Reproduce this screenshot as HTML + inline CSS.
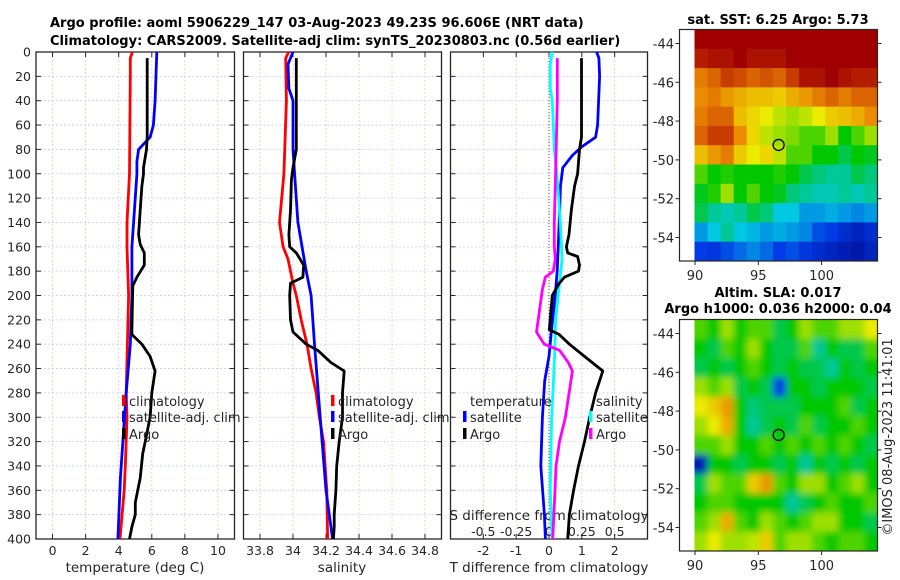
<!DOCTYPE html>
<html><head><meta charset="utf-8"><style>
html,body{margin:0;padding:0;background:#fff}
svg{display:block;font-family:"DejaVu Sans","Liberation Sans",sans-serif}
</style></head><body>
<svg id="fig" width="900" height="580" viewBox="0 0 900 580"></svg>
<script>
// ---------- data ----------
const tClimDepth=[0,5,20,100,140,160,200,280,300,340,360,400];
const tClimVal=[4.83,4.7,4.7,4.65,4.5,4.5,4.6,4.45,4.5,4.4,4.33,4.08];
const tSatDepth=[0,40,60,70,80,90,100,140,160,200,240,280,300,350,400];
const tSatVal=[6.3,6.2,6.1,5.9,5.2,5.1,5.1,4.9,4.8,4.8,4.7,4.45,4.35,4.1,3.95];
const tArgoDepth=[5,70,80,95,100,110,130,150,158,165,175,185,192,228,232,240,250,262,280,300,320,330,350,370,380,390,400];
const tArgoVal=[5.72,5.72,5.68,5.5,5.5,5.4,5.3,5.2,5.3,5.55,5.55,5.1,4.85,4.8,4.8,5.4,5.9,6.2,6.0,5.9,5.6,5.45,5.3,5.0,5.0,4.8,4.65];

const sClimDepth=[0,5,40,100,140,160,170,190,200,220,240,260,280,300,320,360,400];
const sClimVal=[33.974,33.956,33.96,33.945,33.918,33.94,33.97,34.0,34.02,34.05,34.085,34.11,34.14,34.16,34.185,34.205,34.21];
const sSatDepth=[0,5,10,30,40,80,100,140,180,200,240,300,360,400];
const sSatVal=[34.0,33.985,33.97,33.975,34.0,34.0,34.01,34.03,34.08,34.11,34.13,34.165,34.2,34.24];
const sArgoDepth=[5,80,95,105,130,150,160,165,175,185,190,200,220,230,240,245,255,262,280,300,320,340,360,380,390,400];
const sArgoVal=[34.02,34.02,34.0,33.99,33.985,33.975,33.98,34.02,34.065,34.06,33.985,33.98,33.985,34.0,34.08,34.15,34.23,34.31,34.3,34.3,34.28,34.265,34.26,34.25,34.25,34.245];

const dTArgoDepth=[5,70,80,100,110,130,150,160,165,168,175,180,185,190,200,228,232,240,250,262,280,300,320,340,360,380,400];
const dTArgoVal=[0.99,0.99,0.93,0.87,0.78,0.68,0.61,0.53,0.57,0.87,0.93,0.9,0.47,0.31,0.1,0.01,0.31,0.62,1.08,1.64,1.42,1.24,1.08,0.9,0.75,0.62,0.57];
const dTSatDepth=[0,5,20,60,70,78,85,95,110,140,160,180,200,230,250,270,300,340,380,400];
const dTSatVal=[1.45,1.52,1.54,1.48,1.42,0.99,0.71,0.42,0.35,0.31,0.28,0.25,0.19,0.07,0,-0.13,-0.2,-0.25,-0.14,-0.11];
const dSSatDepth=[0,10,30,40,80,100,140,170,200,220,250,280,300,360,400];
const dSSatVal=[0.025,0.01,0.01,0.025,0.04,0.06,0.086,0.1,0.07,0.05,0.043,0.03,0.02,0.01,0.023];
const dSArgoDepth=[5,40,100,140,160,170,180,185,195,230,240,245,255,262,280,300,320,340,360,400];
const dSArgoVal=[0.063,0.063,0.05,0.04,0.04,0.048,0.033,-0.028,-0.05,-0.095,-0.036,0.08,0.147,0.178,0.153,0.125,0.08,0.053,0.046,0.028];

const depthTicks=[0,20,40,60,80,100,120,140,160,180,200,220,240,260,280,300,320,340,360,380,400];
const tTicks=[0,2,4,6,8,10];
const sTicks=[33.8,34,34.2,34.4,34.6,34.8];
const sTickLabels=["33.8","34","34.2","34.4","34.6","34.8"];
const dTTicks=[-2,-1,0,1,2];
const dSTicks=[-0.5,-0.25,0,0.25,0.5];
const dSTickLabels=["-0.5","-0.25","0","0.25","0.5"];
const latTicks=[-44,-46,-48,-50,-52,-54];
const lonTicks=[90,95,100];

const sstGrid=[
[1,1,1,1,1,1,1,1,1,1,1,1,1,1],
[.95,.97,.97,1,.97,.97,.97,1,1,1,1,1,1,1],
[.82,.85,.9,.88,.85,.87,.85,.9,.97,.97,1,.97,.95,.95],
[.8,.82,.78,.75,.72,.72,.7,.75,.78,.82,.85,.82,.85,.85],
[.82,.85,.85,.72,.68,.65,.62,.6,.62,.65,.7,.72,.75,.8],
[.85,.9,.9,.8,.68,.62,.6,.58,.55,.55,.6,.5,.55,.6],
[.72,.78,.82,.7,.65,.68,.62,.55,.55,.5,.5,.45,.5,.48],
[.55,.5,.52,.5,.5,.5,.52,.5,.45,.42,.4,.4,.45,.42],
[.48,.52,.6,.5,.55,.5,.48,.42,.4,.38,.38,.4,.38,.4],
[.45,.4,.38,.4,.45,.42,.35,.35,.3,.3,.32,.3,.28,.3],
[.3,.35,.4,.35,.33,.3,.32,.3,.28,.22,.2,.15,.12,.15],
[.2,.18,.22,.25,.28,.25,.2,.22,.18,.15,.12,.1,.08,.12]];
const slaGrid=[
[.55,.5,.6,.5,.55,.55,.45,.5,.6,.55,.55,.6,.6,.65],
[.5,.45,.55,.5,.6,.5,.45,.45,.55,.4,.5,.45,.45,.55],
[.45,.5,.45,.5,.55,.5,.45,.5,.45,.45,.4,.5,.45,.5],
[.6,.55,.6,.45,.5,.45,.2,.5,.5,.45,.5,.5,.5,.45],
[.65,.7,.78,.5,.42,.45,.45,.45,.5,.5,.5,.55,.45,.5],
[.6,.65,.75,.5,.4,.45,.5,.45,.55,.45,.5,.5,.55,.5],
[.55,.55,.6,.5,.5,.55,.5,.55,.5,.55,.5,.55,.5,.45],
[.1,.5,.5,.45,.5,.5,.45,.5,.4,.5,.45,.5,.45,.5],
[.45,.6,.55,.55,.7,.78,.55,.5,.6,.6,.5,.55,.6,.5],
[.5,.55,.55,.5,.5,.5,.5,.4,.45,.5,.55,.5,.5,.55],
[.55,.6,.75,.55,.5,.6,.55,.5,.55,.6,.6,.5,.5,.45],
[.6,.65,.6,.6,.62,.7,.55,.6,.6,.55,.5,.55,.55,.5]];
const argoLon=96.606, argoLat=-49.23;

// ---------- helpers ----------
const NS="http://www.w3.org/2000/svg";
const svg=document.getElementById('fig');
function mk(tag,attrs,parent){const e=document.createElementNS(NS,tag);for(const k in attrs)e.setAttribute(k,attrs[k]);(parent||svg).appendChild(e);return e;}
function txt(s,x,y,attrs,parent){const e=mk('text',Object.assign({x:x,y:y,'font-size':12,fill:'#262626'},attrs||{}),parent);e.textContent=s;return e;}
const Y0=52,Y1=539;
const yD=d=>Y0+(d/400)*(Y1-Y0);
function lin(d0,d1,r0,r1){return v=>r0+(v-d0)/(d1-d0)*(r1-r0);}
const panels=[
 {name:'temperature-panel',x0:36,x1:234.5,xs:lin(-1,11,36,234.5)},
 {name:'salinity-panel',x0:243.5,x1:441.5,xs:lin(33.7,34.9,243.5,441.5)},
 {name:'difference-panel',x0:450.5,x1:647.5,xs:lin(-3,3,450.5,647.5)}];
const xT=panels[0].xs,xS=panels[1].xs,xDT=panels[2].xs,xDS=lin(-0.75,0.75,450.5,647.5);

function panelFrame(p,ticks){
 const g=mk('g',{});
 
 
 depthTicks.forEach(d=>{mk('line',{x1:p.x0,x2:p.x1,y1:yD(d),y2:yD(d),stroke:'#c4cbf0','stroke-width':0.8,'stroke-dasharray':'2,2'},g);});
 ticks.forEach(t=>{const x=p.xs(t);mk('line',{x1:x,x2:x,y1:Y0,y2:Y1,stroke:'#e8c9bd','stroke-width':0.8,'stroke-dasharray':'2,2'},g);
  mk('line',{x1:x,x2:x,y1:Y1,y2:Y1-5,stroke:'#262626','stroke-width':1},g);
  mk('line',{x1:x,x2:x,y1:Y0,y2:Y0+5,stroke:'#262626','stroke-width':1},g);});
 depthTicks.forEach(d=>{mk('line',{x1:p.x0,x2:p.x0+5,y1:yD(d),y2:yD(d),stroke:'#262626'},g);mk('line',{x1:p.x1,x2:p.x1-5,y1:yD(d),y2:yD(d),stroke:'#262626'},g);});
 mk('rect',{x:p.x0,y:Y0,width:p.x1-p.x0,height:Y1-Y0,fill:'none',stroke:'#262626','stroke-width':1.3},g);
 return g;
}
function curve(depths,vals,xf,color,name,parent){
 const pts=depths.map((d,i)=>xf(vals[i]).toFixed(1)+','+yD(d).toFixed(1)).join(' ');
 const e=mk('polyline',{points:pts,fill:'none',stroke:color,'stroke-width':2.8,'stroke-linejoin':'round'},parent);
 
 
 return e;
}
function legendItem(x,y,color,label,name){
 const g=mk('g',{});
 
 
 if(color) mk('rect',{x:x-7,y:y-11,width:3.5,height:11,fill:color},g);
 txt(label,x,y,{'font-size':13},g);
}

// ---------- titles ----------
txt('Argo profile: aoml 5906229_147 03-Aug-2023 49.23S 96.606E (NRT data)',50,27,{'font-size':13,'font-weight':'bold',fill:'#000'});
txt('Climatology: CARS2009. Satellite-adj clim: synTS_20230803.nc (0.56d earlier)',50,45,{'font-size':13,'font-weight':'bold',fill:'#000'});

// ---------- panel 1 ----------
const g1=panelFrame(panels[0],tTicks);
tTicks.forEach(t=>txt(String(t),xT(t),555,{'text-anchor':'middle','font-size':12.5},g1));
depthTicks.forEach(d=>txt(String(d),31,yD(d)+4.5,{'text-anchor':'end','font-size':12.5}));
txt('temperature (deg C)',135,572,{'text-anchor':'middle','font-size':13.5},g1);
curve(tClimDepth,tClimVal,xT,'#ff0000','temp-climatology-line',g1);
curve(tSatDepth,tSatVal,xT,'#0000ff','temp-satellite-line',g1);
curve(tArgoDepth,tArgoVal,xT,'#000000','temp-argo-line',g1);
legendItem(129,406,'#ff0000','climatology','legend-climatology');
legendItem(129,422,'#0000ff','satellite-adj. clim','legend-satellite-adj');
legendItem(129,439,'#000000','Argo','legend-argo');

// ---------- panel 2 ----------
const g2=panelFrame(panels[1],sTicks);
sTicks.forEach((t,i)=>txt(sTickLabels[i],xS(t),555,{'text-anchor':'middle','font-size':12.5},g2));
txt('salinity',342,572,{'text-anchor':'middle','font-size':13.5},g2);
curve(sClimDepth,sClimVal,xS,'#ff0000','sal-climatology-line',g2);
curve(sSatDepth,sSatVal,xS,'#0000ff','sal-satellite-line',g2);
curve(sArgoDepth,sArgoVal,xS,'#000000','sal-argo-line',g2);
legendItem(338,406,'#ff0000','climatology','legend-sal-climatology');
legendItem(338,422,'#0000ff','satellite-adj. clim','legend-sal-satellite-adj');
legendItem(338,439,'#000000','Argo','legend-sal-argo');

// ---------- panel 3 ----------
const g3=panelFrame(panels[2],dTTicks);
mk('line',{x1:xDT(0),x2:xDT(0),y1:Y0,y2:Y1,stroke:'#555','stroke-width':1,'stroke-dasharray':'1,2'},g3);
dTTicks.forEach(t=>txt(String(t),xDT(t),555,{'text-anchor':'middle','font-size':12.5},g3));
txt('T difference from climatology',549,572,{'text-anchor':'middle','font-size':13.5},g3);
txt('S difference from climatology',549,520,{'text-anchor':'middle','font-size':13.5},g3);
dSTicks.forEach((t,i)=>txt(dSTickLabels[i],xDS(t),536,{'text-anchor':'middle','font-size':12.5},g3));
curve(dTSatDepth,dTSatVal,xDT,'#0000ff','t-diff-satellite-line',g3);
curve(dSSatDepth,dSSatVal,xDS,'#00ffff','s-diff-satellite-line',g3);
curve(dSArgoDepth,dSArgoVal,xDS,'#ff00ff','s-diff-argo-line',g3);
curve(dTArgoDepth,dTArgoVal,xDT,'#000000','t-diff-argo-line',g3);
legendItem(470,406,null,'temperature','legend-temperature-header');
legendItem(470,422,'#0000ff','satellite','legend-t-satellite');
legendItem(470,439,'#000000','Argo','legend-t-argo');
legendItem(596,406,null,'salinity','legend-salinity-header');
legendItem(596,422,'#00ffff','satellite','legend-s-satellite');
legendItem(596,439,'#ff00ff','Argo','legend-s-argo');

// ---------- maps ----------
const cmapStops=[[0,[0,0,130]],[0.2,[0,60,230]],[0.35,[0,200,225]],[0.5,[0,200,0]],[0.65,[235,235,0]],[0.8,[235,140,0]],[0.9,[200,60,0]],[1,[160,0,0]]];
function cmap(v){v=Math.max(0,Math.min(1,v));
 for(let i=1;i<cmapStops.length;i++){const a=cmapStops[i-1],b=cmapStops[i];
  if(v<=b[0]){const t=(v-a[0])/(b[0]-a[0]);const c=a[1].map((x,k)=>Math.round(x+(b[1][k]-x)*t));return 'rgb('+c.join(',')+')';}}
 return 'rgb(160,0,0)';}
function drawMap(top,bottom,grid,name,blur,idx){
 const ax0=679.5,ax1=877.5;
 const lonX=lin(90,95,695,758.3);
 const latY=lin(-44,-54,top+14,top+208);
 const g=mk('g',{});
 
 
 const cx0=694.5;
 const cp=mk('clipPath',{id:'cp'+idx},defs);
 mk('rect',{x:cx0,y:top,width:ax1-cx0,height:bottom-top},cp);
 const outer=mk('g',{'clip-path':'url(#cp'+idx+')'},g);
 const cg=mk('g',blur?{filter:'url(#bl)'}:{},outer);
 const rows=grid.length,cols=grid[0].length;
 const cw=(ax1-cx0)/cols,ch=(bottom-top)/rows;
 grid.forEach((row,i)=>row.forEach((v,j)=>{
  let x=cx0+j*cw,y=top+i*ch,w=cw+0.6,h=ch+0.6;
  if(blur){if(j===0){x-=12;w+=12;}if(j===cols-1)w+=12;if(i===0){y-=12;h+=12;}if(i===rows-1)h+=12;}
  const r=mk('rect',{x:x,y:y,width:w,height:h,fill:cmap(v)},cg);
  
  
 }));
 mk('rect',{x:ax0,y:top,width:ax1-ax0,height:bottom-top,fill:'none',stroke:'#262626','stroke-width':1.2},g);
 latTicks.forEach(l=>{const y=latY(l);mk('line',{x1:ax0,x2:ax0-4,y1:y,y2:y,stroke:'#262626'},g);mk('line',{x1:ax1,x2:ax1+4,y1:y,y2:y,stroke:'#262626'},g);
  txt(String(l),674,y+5,{'text-anchor':'end','font-size':13},g);});
 lonTicks.forEach(l=>{const x=lonX(l);mk('line',{x1:x,x2:x,y1:bottom,y2:bottom+4,stroke:'#262626'},g);
  txt(String(l),x,bottom+19,{'text-anchor':'middle','font-size':13},g);});
 const c=mk('circle',{cx:lonX(argoLon),cy:latY(argoLat),r:5.5,fill:'none',stroke:'#000','stroke-width':1.3},g);
 
 
}
const defs=mk('defs',{});
const f=mk('filter',{id:'bl',x:'-10%',y:'-10%',width:'120%',height:'120%'},defs);
mk('feGaussianBlur',{stdDeviation:3.5},f);
drawMap(29.5,261,sstGrid,'sst-map',false,1);
drawMap(319.5,551,slaGrid,'sla-map',true,2);
txt('sat. SST: 6.25 Argo: 5.73',778,24,{'text-anchor':'middle','font-size':13,'font-weight':'bold',fill:'#000'});
txt('Altim. SLA: 0.017',778,297,{'text-anchor':'middle','font-size':13,'font-weight':'bold',fill:'#000'});
txt('Argo h1000: 0.036 h2000: 0.04',778,313,{'text-anchor':'middle','font-size':13,'font-weight':'bold',fill:'#000'});
const cr=txt('©IMOS 08-Aug-2023 11:41:01',0,0,{'text-anchor':'middle','font-size':13,transform:'translate(892,437) rotate(-90)'});

</script>
</body></html>
